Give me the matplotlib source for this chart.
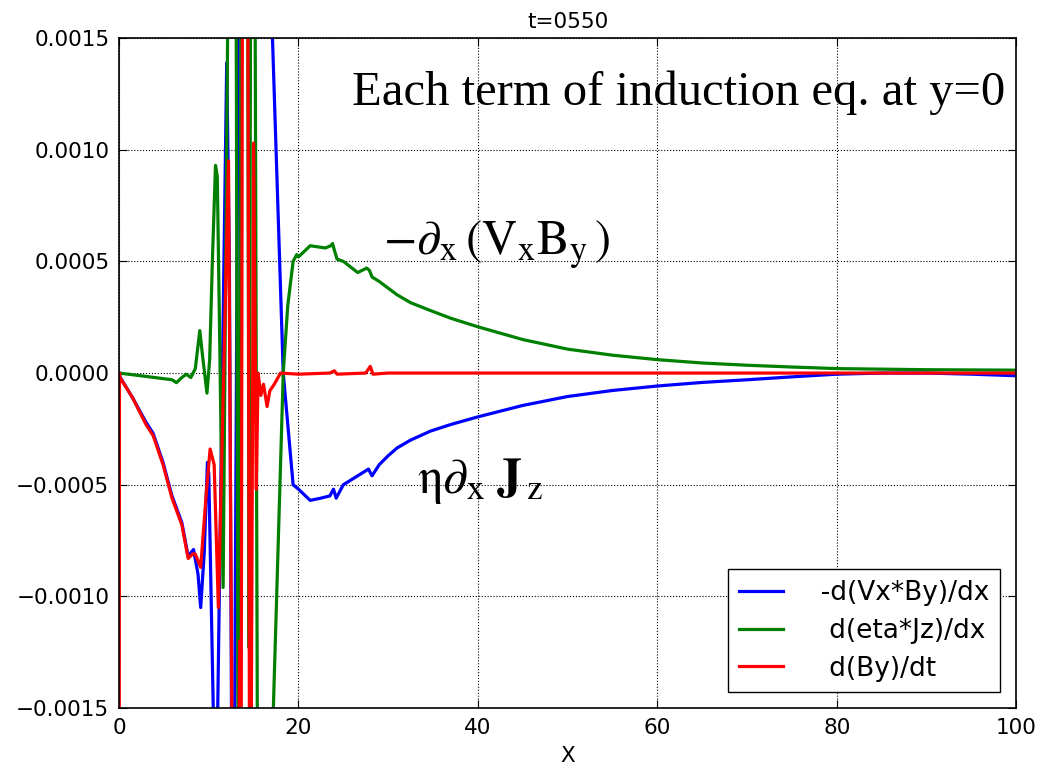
import numpy as np
import matplotlib
matplotlib.use("Agg")
import matplotlib.pyplot as plt

# values (y in units of 1e-4)
x_blue = [0, 0.1, 1.5, 3.0, 3.8, 4.9, 5.9, 7.0, 7.7, 8.3, 8.8, 9.1, 9.5, 9.85, 10.0,
          10.5, 10.8, 11.0, 12.0, 12.3, 12.7, 13.6, 16.2, 17.1, 18.3, 19.4, 20.0,
          21.3, 22.5, 23.5, 23.9, 24.2, 25.0, 27.0, 27.8, 28.2, 29.0, 30.0, 31.0,
          32.5, 34.7, 37.0, 40.0, 45.0, 50.0, 55.0, 60.0, 65.0, 70.0, 75.0, 80.0,
          85.0, 90.0, 95.0, 100.0]
blue = [0, -0.17, -1.1, -2.2, -2.7, -4.0, -5.5, -6.7, -8.2, -7.9, -9.0, -10.5, -8.0,
        -4.0, -4.5, -15, -25, -15, 13.9, 5, -30, 40, 40, 15, 0, -5.0, -5.2,
        -5.7, -5.6, -5.5, -5.2, -5.6, -5.0, -4.5, -4.3, -4.6, -4.1, -3.7, -3.35,
        -3.0, -2.6, -2.3, -1.96, -1.45, -1.05, -0.78, -0.58, -0.42, -0.3, -0.17, -0.05,
        0.0, 0.0, -0.05, -0.12]

x_green = [0, 3.0, 5.9, 6.4, 7.0, 7.5, 8.0, 8.5, 9.0, 9.3, 9.8, 10.1, 10.4, 10.75,
           10.95, 11.2, 11.6, 12.4, 13.0, 13.35, 13.6, 14.3, 14.5, 14.7, 15.1, 15.6,
           16.5, 17.2, 18.3, 18.8, 19.4, 19.8, 20.0, 21.3, 23.0, 23.6, 23.8, 24.0,
           24.3, 25.0, 26.6, 27.6, 27.9, 28.2, 29.0, 30.0, 31.0, 32.5, 34.7, 37.0,
           40.0, 45.0, 50.0, 55.0, 60.0, 65.0, 70.0, 75.0, 80.0, 90.0, 100.0]
green = [0, -0.15, -0.3, -0.43, -0.2, -0.05, -0.2, 0.2, 1.9, 0.8, -0.9, 0.6, 5.0, 9.3,
         8.8, 2.0, -9.6, 30, 25, -30, 20, 25, -12.3, 25, 25, -40,
         -40, -15, 0, 3.0, 5.0, 5.3, 5.2, 5.7, 5.6, 5.7, 5.8, 5.5,
         5.1, 5.0, 4.5, 4.7, 4.6, 4.3, 4.1, 3.8, 3.5, 3.15, 2.8, 2.45,
         2.07, 1.5, 1.07, 0.8, 0.6, 0.45, 0.35, 0.27, 0.2, 0.15, 0.13]

x_red = [0, 0.05, 0.1, 1.5, 3.0, 3.8, 4.9, 5.9, 7.0, 7.7, 8.2, 8.5, 9.1, 9.7, 10.15,
         10.6, 11.07, 12.2, 12.8, 13.3, 13.45, 13.6, 13.8, 14.3, 14.6, 15.0, 15.3,
         15.5, 15.8, 16.1, 16.5, 16.8, 17.3, 18.0, 20.0, 23.5, 24.0, 24.3, 27.5,
         28.0, 28.3, 30.0, 100.0]
red = [-30, 0, -0.2, -1.1, -2.3, -2.8, -4.1, -5.6, -6.8, -8.3, -8.1, -8.1, -8.7, -5.5,
       -3.4, -4.1, -10.5, 9.5, -30, -20, -12, -20, 30, 30, -30, 10.3, -5.2,
       0, -1.0, -0.5, -1.5, -0.8, -0.5, 0, -0.05, 0, 0.1, -0.05, 0,
       0.3, -0.05, 0, 0]

labels = ["  -d(Vx*By)/dx", "   d(eta*Jz)/dx", "   d(By)/dt"]

plt.rcParams["font.family"] = "DejaVu Sans"
plt.rcParams["mathtext.fontset"] = "stix"

fig = plt.figure(figsize=(10.37, 7.68), dpi=100)
ax = fig.add_axes([0.1148, 0.078, 0.8652, 0.8725])

ax.plot(x_blue, np.array(blue) * 1e-4, color="b", lw=2.3, label=labels[0])
ax.plot(x_green, np.array(green) * 1e-4, color="g", lw=2.3, label=labels[1])
ax.plot(x_red, np.array(red) * 1e-4, color="r", lw=2.3, label=labels[2])

ax.set_xlim(0, 100)
ax.set_ylim(-0.0015, 0.0015)
ax.set_xticks([0, 20, 40, 60, 80, 100])
ax.set_yticks([-0.0015, -0.001, -0.0005, 0, 0.0005, 0.001, 0.0015])
ax.set_yticklabels(["\u22120.0015", "\u22120.0010", "\u22120.0005", "0.0000",
                    "0.0005", "0.0010", "0.0015"])
ax.tick_params(direction="in", length=6, top=True, right=True, labelsize=15.5, pad=7)
ax.grid(True, color="k", linestyle=":", linewidth=0.8)
for s in ax.spines.values():
    s.set_linewidth(1.2)

ax.set_title("t=0550", fontsize=15.5, pad=7)
ax.set_xlabel("X", fontsize=15.5, labelpad=6)

ax.text(0.988, 0.9, "Each term of induction eq. at y=0", transform=ax.transAxes,
        ha="right", va="baseline", fontsize=35, family="Liberation Serif")
ax.text(29.4, 0.00053, r"$-\partial_{\rm x}\,(\mathrm{V_xB_y}\,)$", fontsize=35,
        va="baseline")
ax.text(33.2, -0.000537, r"$\mathrm{\eta}\partial_{\rm x}\;\mathbf{J}_{\,\rm z}$",
        fontsize=36, va="baseline")

ax.legend(loc="lower right", fontsize=19, handlelength=1.7, fancybox=False,
          edgecolor="k", framealpha=1, borderaxespad=0.6, labelspacing=0.45)

fig.savefig("out.png", dpi=100, facecolor="white")
